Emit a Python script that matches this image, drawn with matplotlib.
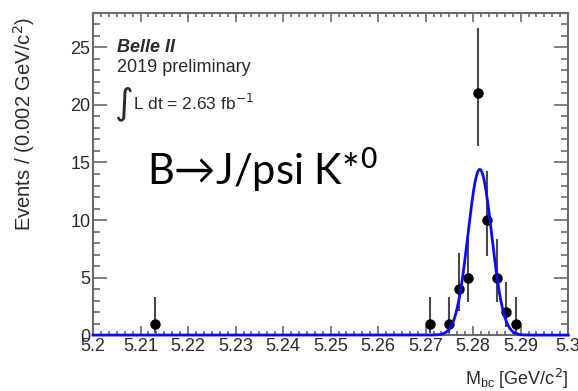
import numpy as np
import matplotlib
matplotlib.use("Agg")
import matplotlib.pyplot as plt
from matplotlib.ticker import MultipleLocator, AutoMinorLocator

# binned M_bc data (bin width 0.002 GeV/c^2)
mbc_centers = [5.213, 5.271, 5.275, 5.277, 5.279, 5.281, 5.283, 5.285, 5.287, 5.289]
events = [1, 1, 1, 4, 5, 21, 10, 5, 2, 1]
# asymmetric Poisson errors
err_low = [0.83, 0.83, 0.83, 1.91, 2.16, 4.55, 3.11, 2.16, 1.29, 0.83]
err_high = [2.30, 2.30, 2.30, 3.16, 3.38, 5.66, 4.27, 3.38, 2.64, 2.30]
x_ticklabels = ['5.2', '5.21', '5.22', '5.23', '5.24', '5.25', '5.26',
                '5.27', '5.28', '5.29', '5.3']

# fitted signal gaussian + flat background
fit_mean = 5.2814
fit_sigma = 0.0025
fit_peak = 14.4
fit_bkg = 0.0

plt.rcParams['font.family'] = ['Liberation Sans', 'DejaVu Sans']
frame_col = '#6a6a6a'
text_col = '#2a2a2a'

fig = plt.figure(figsize=(5.78, 3.91), dpi=100)
ax = fig.add_axes([0.161, 0.143, 0.822, 0.824])

xs = np.linspace(5.2, 5.3, 800)
curve = fit_bkg + fit_peak * np.exp(-0.5 * ((xs - fit_mean) / fit_sigma) ** 2)
ax.plot(xs, curve, color='#0a0aff', lw=2.0, zorder=4, clip_on=False)

ax.errorbar(mbc_centers, events, yerr=[err_low, err_high], fmt='o', color='black',
            ecolor='#4a4a4a', elinewidth=1.5, capsize=0, markersize=6.5, zorder=3)

ax.set_xlim(5.2, 5.3)
ax.set_ylim(0, 28)
ax.set_xticks(np.linspace(5.2, 5.3, len(x_ticklabels)))
ax.set_xticklabels(x_ticklabels)
ax.xaxis.set_minor_locator(AutoMinorLocator(6))
ax.yaxis.set_major_locator(MultipleLocator(5))
ax.yaxis.set_minor_locator(AutoMinorLocator(5))

ax.tick_params(axis='both', which='both', direction='in', top=True, right=True,
               color=frame_col, width=1.2, labelsize=13, labelcolor=text_col)
ax.tick_params(axis='y', which='major', length=10, pad=2)
ax.tick_params(axis='y', which='minor', length=5)
ax.tick_params(axis='x', which='major', length=6.5, pad=2)
ax.tick_params(axis='x', which='minor', length=3.2)
for s in ax.spines.values():
    s.set_color(frame_col)
    s.set_linewidth(1.5)

ax.set_ylabel('Events / (0.002 GeV/c$^{2}$)', fontsize=14.5, color=text_col)
ax.yaxis.set_label_coords(-0.117, 0.655)
fig.text(0.983, 0.031, 'M$_{\\mathregular{bc}}$ [GeV/c$^{2}$]', fontsize=13,
         color=text_col, ha='right', va='center')

ax.text(0.05, 0.879, 'Belle II', transform=ax.transAxes, fontsize=13,
        fontweight='bold', fontstyle='italic', color=text_col, va='baseline')
ax.text(0.05, 0.817, '2019 preliminary', transform=ax.transAxes, fontsize=13,
        color=text_col, va='baseline')
ax.text(0.045, 0.717, '\u222b', transform=ax.transAxes, fontsize=26,
        color=text_col, va='center', family=['DejaVu Sans'])
ax.text(0.084, 0.699, 'L dt = 2.63 fb$^{-1}$', transform=ax.transAxes,
        fontsize=12.5, color=text_col, va='baseline')

ax.text(0.1137, 0.466, 'B\u2192J/psi K*$^{0}$', transform=ax.transAxes,
        fontsize=30, color='black', va='baseline', family=['Lato', 'DejaVu Sans'])

fig.savefig('out.png', dpi=100)
